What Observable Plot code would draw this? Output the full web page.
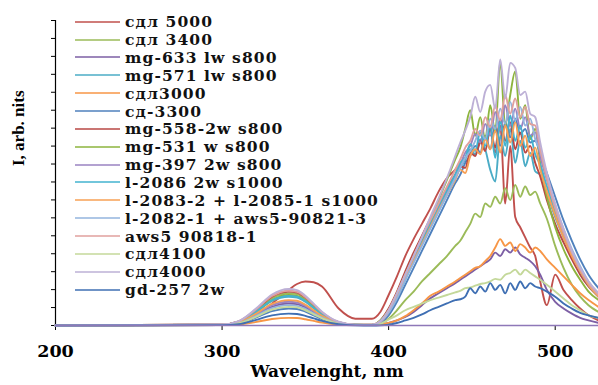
<!DOCTYPE html>
<html><head><meta charset="utf-8">
<script src="https://cdn.jsdelivr.net/npm/d3@7"></script>
<script src="https://cdn.jsdelivr.net/npm/@observablehq/plot@0.6"></script>
<style>
body{margin:0;background:#fff;}
#wrap{position:relative;width:598px;height:385px;overflow:hidden;}
#legend{position:absolute;left:75px;top:12.8px;font-family:"DejaVu Serif";font-weight:bold;font-size:15.5px;letter-spacing:1.1px;color:#111;}
.row{height:17.87px;display:flex;align-items:center;white-space:nowrap;}
.row svg{margin-right:5px;flex:none;}
</style></head>
<body><div id="wrap"><div id="legend"></div></div>
<script>
// wavelength grid (nm)
const wavelengths = [200,300,310,320,330,340,345,350,355,360,370,380,390,
  395,400,405,410,415,420,425,430,435,440,
  443,446,449,452,455,458,461,464,467,470,473,476,479,482,485,488,
  491,495,500,505,510,515,520,526];

const sdl5000 = [0,0.05,0.2,0.6,1.3,2.1,2.45,2.6,2.55,2.3,1.0,0.4,0.4,
  0.8,1.8,2.9,4.1,5.1,6.0,6.9,7.9,8.7,9.2,
  9.6,9.9,10.3,10.1,10.8,11.0,11.6,10.2,11.8,7.2,10.6,6.4,5.8,5.2,4.6,4.1,
  2.6,1.2,3.0,2.1,1.5,1.0,0.6,0.3];
const sdl3400 = [0,0.06,0.23,0.85,1.6,1.9,1.85,1.55,1.15,0.72,0.19,0.04,0.03,
  0.1,0.4,0.9,1.5,2.0,2.6,3.1,3.6,4.1,4.7,
  5.0,5.5,6.0,6.6,6.4,7.2,7.0,7.6,7.2,8.1,7.4,8.3,7.6,8.2,7.7,7.9,
  7.2,6.3,4.7,3.4,2.4,1.7,1.2,0.8];
const mg633 = [0,0.04,0.16,0.6,1.1,1.3,1.26,1.07,0.78,0.5,0.13,0.03,0.02,
  0.05,0.15,0.3,0.5,0.8,1.2,1.6,1.9,2.2,2.5,
  2.7,2.9,3.1,3.3,3.5,3.7,3.9,4.3,4.1,4.5,4.3,4.6,4.2,4.0,3.8,3.5,
  3.0,2.1,1.4,1.0,0.7,0.45,0.3,0.15];
const mg571 = [0,0.05,0.2,0.75,1.45,1.7,1.65,1.4,1.02,0.65,0.17,0.04,0.03,
  0.2,0.7,1.6,2.7,3.8,4.8,5.8,6.8,7.8,8.7,
  9.3,9.8,10.4,10.1,11.0,10.4,9.2,8.5,11.2,10.0,11.6,9.6,10.9,9.4,10.2,9.1,
  8.9,7.8,6.4,5.2,4.1,3.2,2.5,1.8];
const sdl3000 = [0,0.02,0.06,0.2,0.38,0.45,0.44,0.37,0.27,0.17,0.05,0.02,0.02,
  0.05,0.15,0.3,0.55,0.9,1.3,1.75,2.0,2.3,2.6,
  2.8,3.0,3.2,3.4,3.5,3.8,4.1,4.6,5.1,4.7,4.9,4.4,4.8,4.6,4.3,4.6,
  4.4,3.9,3.4,2.9,2.4,1.9,1.5,1.1];
const sd3300 = [0,0.03,0.12,0.45,0.85,1.0,0.97,0.82,0.6,0.38,0.1,0.02,0.02,
  0.15,0.6,1.4,2.4,3.4,4.4,5.4,6.4,7.4,8.4,
  8.9,9.6,10.0,10.6,10.2,11.2,10.4,11.8,10.6,12.0,11.1,12.2,11.3,11.6,10.8,10.9,
  10.1,9.0,7.6,6.2,5.0,3.9,3.0,2.2];
const mg558 = [0,0.06,0.24,0.9,1.7,2.0,1.95,1.65,1.2,0.76,0.2,0.04,0.05,
  0.3,1.0,2.0,3.2,4.3,5.3,6.3,7.2,8.1,8.9,
  9.4,9.3,10.2,10.0,10.9,10.3,11.6,10.5,12.2,10.9,12.0,10.4,11.4,10.2,10.6,9.6,
  8.8,7.4,6.0,4.9,3.9,3.0,2.3,1.7];
const mg531 = [0,0.05,0.22,0.8,1.5,1.8,1.75,1.48,1.08,0.68,0.18,0.04,0.04,
  0.3,0.9,1.9,3.0,4.1,5.1,6.2,7.4,8.6,9.8,
  10.5,11.6,12.7,11.2,12.3,11.0,13.0,11.4,15.6,11.8,13.6,15.0,12.2,13.0,11.0,11.6,
  9.6,7.6,5.8,4.5,3.5,2.7,2.0,1.5];
const mg397 = [0,0.04,0.17,0.63,1.2,1.4,1.36,1.15,0.84,0.53,0.14,0.03,0.03,
  0.2,0.8,1.7,2.8,3.9,4.9,5.9,6.9,7.9,8.9,
  9.5,10.2,10.6,11.3,10.8,11.9,11.2,12.6,11.5,13.0,11.8,12.8,11.6,12.3,11.2,11.4,
  10.0,8.6,6.9,5.5,4.3,3.3,2.5,1.8];
const l2086 = [0,0.05,0.21,0.79,1.49,1.75,1.7,1.44,1.05,0.67,0.18,0.04,0.03,
  0.25,0.85,1.8,2.9,4.0,5.0,6.0,7.0,8.0,8.9,
  9.6,9.9,10.7,10.3,11.4,10.6,11.8,9.9,12.1,10.6,12.4,10.9,11.8,10.5,11.2,10.1,
  9.5,8.2,6.7,5.4,4.2,3.2,2.4,1.7];
const l2083 = [0,0.04,0.18,0.68,1.28,1.5,1.46,1.23,0.9,0.57,0.15,0.03,0.03,
  0.22,0.8,1.7,2.8,3.8,4.8,5.8,6.8,7.7,8.6,
  9.2,9.0,10.0,10.4,10.1,11.0,10.4,11.5,10.2,11.8,10.8,12.0,10.6,11.2,10.0,10.5,
  9.2,7.9,6.5,5.2,4.1,3.2,2.4,1.7];
const l2082 = [0,0.04,0.14,0.54,1.02,1.2,1.16,0.98,0.72,0.46,0.12,0.03,0.03,
  0.2,0.75,1.6,2.7,3.7,4.7,5.7,6.7,7.7,8.7,
  9.3,9.9,10.3,10.9,11.5,11.0,12.2,11.6,12.8,11.9,13.2,12.1,12.9,11.8,12.2,11.0,
  10.3,8.8,7.1,5.7,4.5,3.5,2.6,1.9];
const aws5 = [0,0.06,0.25,0.92,1.74,2.05,1.99,1.68,1.23,0.78,0.2,0.05,0.04,
  0.25,0.9,1.9,3.0,4.1,5.2,6.2,7.2,8.2,9.2,
  9.8,10.5,10.9,11.6,11.2,12.3,11.7,13.0,12.1,13.6,12.5,13.4,12.3,12.9,11.9,11.8,
  10.4,8.7,6.9,5.5,4.3,3.3,2.5,1.8];
const sdl4100 = [0,0.03,0.13,0.5,0.94,1.1,1.07,0.9,0.66,0.42,0.11,0.02,0.02,
  0.1,0.35,0.6,0.9,1.1,1.3,1.5,1.65,1.8,1.95,
  2.05,2.2,2.25,2.35,2.45,2.5,2.6,2.75,2.7,3.0,3.1,3.3,3.0,3.3,3.1,2.9,
  2.7,2.4,2.0,1.6,1.2,0.9,0.6,0.45];
const sdl4000 = [0,0.06,0.26,0.97,1.83,2.15,2.09,1.76,1.29,0.82,0.22,0.05,0.04,
  0.25,0.9,1.9,3.0,4.1,5.2,6.4,7.5,8.7,10.0,
  10.8,11.5,12.3,13.5,12.6,13.8,14.2,12.8,15.7,13.4,15.5,15.2,13.6,13.8,12.5,12.3,
  10.8,9.0,7.2,5.7,4.4,3.4,2.6,1.9];
const gd257 = [0,0.02,0.08,0.32,0.6,0.7,0.68,0.57,0.42,0.27,0.07,0.01,0,
  0.01,0.05,0.15,0.3,0.45,0.65,0.9,1.1,1.3,1.5,
  1.55,1.7,2.2,1.9,2.3,2.0,2.5,2.1,2.4,1.9,2.5,2.1,2.6,2.2,2.5,2.3,
  2.2,2.0,1.7,1.3,1.0,0.75,0.6,0.45];

const seriesNames = ["сдл 5000","сдл 3400","mg-633 lw s800","mg-571 lw s800","сдл3000","сд-3300",
  "mg-558-2w s800","mg-531 w s800","mg-397 2w s800","l-2086 2w s1000","l-2083-2 + l-2085-1 s1000",
  "l-2082-1 + aws5-90821-3","aws5 90818-1","сдл4100","сдл4000","gd-257 2w"];
const seriesValues = [sdl5000,sdl3400,mg633,mg571,sdl3000,sd3300,mg558,mg531,mg397,l2086,l2083,l2082,aws5,sdl4100,sdl4000,gd257];
const seriesColors = ["#C0504D","#9BBB59","#7D5FA5","#4BACC6","#F79646","#4F81BD",
  "#B84745","#8DB43E","#9A83C2","#43B3CF","#F7A055","#93B4DE","#E0A09E","#C4D89A","#BDB0D6","#3F6FB3"];

const xTicks = [200, 300, 400, 500];
const yTickCount = 17;
const yMax = 18;
const xTitle = "Wavelenght, nm";
const yTitle = "I, arb. nits";

const data = [];
seriesNames.forEach((name, i) => {
  seriesValues[i].forEach((v, j) => data.push({series: name, w: wavelengths[j], v}));
});
const yTicks = d3.range(yTickCount + 1).map(i => i * yMax / yTickCount);

const plot = Plot.plot({
  width: 598, height: 385,
  marginLeft: 55, marginRight: 0, marginTop: 20, marginBottom: 60,
  style: {fontFamily: "DejaVu Serif", fontWeight: "bold", fontSize: "17px", color: "#000", background: "#fff"},
  x: {domain: [200, 526]},
  y: {domain: [0, yMax]},
  color: {domain: seriesNames, range: seriesColors},
  marks: [
    Plot.axisX({ticks: xTicks, tickSize: 5, tickPadding: 14, label: null, fontSize: 17.5, fontWeight: "bold", stroke: "#000"}),
    Plot.axisY({ticks: yTicks, tickSize: 4, tickFormat: () => "", label: null, stroke: "#000"}),
    Plot.ruleX([200], {stroke: "#000", strokeWidth: 1.2}),
    Plot.line(data, {x: "w", y: "v", z: "series", stroke: "series", strokeWidth: 1.9, curve: "monotone-x"}),
    Plot.ruleY([0], {stroke: "#8e78b8", strokeWidth: 1.6}),
    Plot.text([xTitle], {text: d => d, frameAnchor: "bottom", dy: 51, fontSize: 17, fontWeight: "bold", fontFamily: "DejaVu Serif"}),
    Plot.text([yTitle], {text: d => d, frameAnchor: "left", rotate: -90, dx: -37, dy: -7, fontFamily: "Liberation Serif", fontSize: 17, fontWeight: "bold"})
  ]
});
const wrap = document.getElementById("wrap");
wrap.insertBefore(plot, wrap.firstChild);

const legend = d3.select("#legend");
seriesNames.forEach((name, i) => {
  const row = legend.append("div").attr("class", "row");
  const sv = row.append("svg").attr("width", 45).attr("height", 4);
  sv.append("line").attr("x1", 0).attr("x2", 45).attr("y1", 2).attr("y2", 2)
    .attr("stroke", seriesColors[i]).attr("stroke-width", 1.6);
  row.append("span").text(name);
});
</script>
</body></html>
